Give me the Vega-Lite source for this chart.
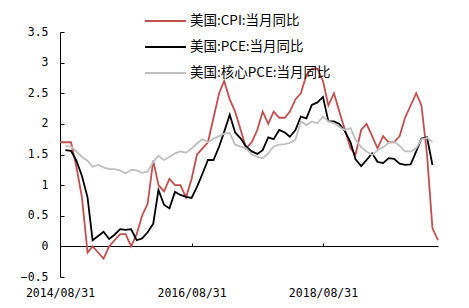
{
  "$schema": "https://vega.github.io/schema/vega-lite/v6.json",
  "autosize": {"type": "none"},
  "padding": {"left": 60, "top": 32, "right": 31, "bottom": 31},
  "width": 378,
  "height": 245,
  "background": "white",
  "config": {"view": {"stroke": null}},
  "data": {"values": [
    {"d":"2014-08-31","c":1.7},
    {"d":"2014-09-30","c":1.7,"p":1.57,"k":1.64},
    {"d":"2014-10-31","c":1.7,"p":1.56,"k":1.63},
    {"d":"2014-11-30","c":1.3,"p":1.4,"k":1.55},
    {"d":"2014-12-31","c":0.8,"p":1.15,"k":1.46},
    {"d":"2015-01-31","c":-0.1,"p":0.8,"k":1.4},
    {"d":"2015-02-28","c":0.0,"p":0.1,"k":1.3},
    {"d":"2015-03-31","c":-0.1,"p":0.17,"k":1.33},
    {"d":"2015-04-30","c":-0.2,"p":0.24,"k":1.29},
    {"d":"2015-05-31","c":0.0,"p":0.12,"k":1.26},
    {"d":"2015-06-30","c":0.1,"p":0.19,"k":1.26},
    {"d":"2015-07-31","c":0.2,"p":0.28,"k":1.24},
    {"d":"2015-08-31","c":0.2,"p":0.27,"k":1.19},
    {"d":"2015-09-30","c":0.0,"p":0.28,"k":1.25},
    {"d":"2015-10-31","c":0.2,"p":0.1,"k":1.24},
    {"d":"2015-11-30","c":0.5,"p":0.13,"k":1.2},
    {"d":"2015-12-31","c":0.7,"p":0.23,"k":1.22},
    {"d":"2016-01-31","c":1.4,"p":0.37,"k":1.38},
    {"d":"2016-02-29","c":1.0,"p":0.92,"k":1.48},
    {"d":"2016-03-31","c":0.9,"p":0.68,"k":1.41},
    {"d":"2016-04-30","c":1.1,"p":0.62,"k":1.46},
    {"d":"2016-05-31","c":1.0,"p":0.89,"k":1.52},
    {"d":"2016-06-30","c":1.0,"p":0.84,"k":1.55},
    {"d":"2016-07-31","c":0.8,"p":0.81,"k":1.53},
    {"d":"2016-08-31","c":1.1,"p":0.79,"k":1.6},
    {"d":"2016-09-30","c":1.5,"p":0.97,"k":1.68},
    {"d":"2016-10-31","c":1.6,"p":1.19,"k":1.75},
    {"d":"2016-11-30","c":1.7,"p":1.41,"k":1.7},
    {"d":"2016-12-31","c":2.1,"p":1.41,"k":1.76},
    {"d":"2017-01-31","c":2.5,"p":1.63,"k":1.8},
    {"d":"2017-02-28","c":2.7,"p":1.87,"k":1.84},
    {"d":"2017-03-31","c":2.4,"p":2.15,"k":1.85},
    {"d":"2017-04-30","c":2.2,"p":1.86,"k":1.66},
    {"d":"2017-05-31","c":1.9,"p":1.76,"k":1.63},
    {"d":"2017-06-30","c":1.6,"p":1.63,"k":1.6},
    {"d":"2017-07-31","c":1.7,"p":1.55,"k":1.5},
    {"d":"2017-08-31","c":1.9,"p":1.51,"k":1.46},
    {"d":"2017-09-30","c":2.2,"p":1.57,"k":1.44},
    {"d":"2017-10-31","c":2.0,"p":1.78,"k":1.52},
    {"d":"2017-11-30","c":2.2,"p":1.75,"k":1.63},
    {"d":"2017-12-31","c":2.1,"p":1.9,"k":1.66},
    {"d":"2018-01-31","c":2.1,"p":1.86,"k":1.67},
    {"d":"2018-02-28","c":2.2,"p":1.79,"k":1.69},
    {"d":"2018-03-31","c":2.4,"p":1.9,"k":1.74},
    {"d":"2018-04-30","c":2.5,"p":2.12,"k":2.04},
    {"d":"2018-05-31","c":2.8,"p":2.09,"k":1.98},
    {"d":"2018-06-30","c":2.9,"p":2.31,"k":2.04},
    {"d":"2018-07-31","c":2.9,"p":2.35,"k":2.01},
    {"d":"2018-08-31","c":2.7,"p":2.44,"k":2.12},
    {"d":"2018-09-30","c":2.3,"p":2.04,"k":2.04},
    {"d":"2018-10-31","c":2.5,"p":2.04,"k":2.01},
    {"d":"2018-11-30","c":2.2,"p":2.0,"k":1.95},
    {"d":"2018-12-31","c":1.9,"p":1.88,"k":1.9},
    {"d":"2019-01-31","c":1.6,"p":1.7,"k":1.93},
    {"d":"2019-02-28","c":1.5,"p":1.42,"k":1.74},
    {"d":"2019-03-31","c":1.9,"p":1.31,"k":1.62},
    {"d":"2019-04-30","c":2.0,"p":1.41,"k":1.55},
    {"d":"2019-05-31","c":1.8,"p":1.52,"k":1.49},
    {"d":"2019-06-30","c":1.6,"p":1.38,"k":1.57},
    {"d":"2019-07-31","c":1.8,"p":1.36,"k":1.62},
    {"d":"2019-08-31","c":1.7,"p":1.44,"k":1.69},
    {"d":"2019-09-30","c":1.7,"p":1.43,"k":1.71},
    {"d":"2019-10-31","c":1.8,"p":1.35,"k":1.64},
    {"d":"2019-11-30","c":2.1,"p":1.33,"k":1.55},
    {"d":"2019-12-31","c":2.3,"p":1.34,"k":1.55},
    {"d":"2020-01-31","c":2.5,"p":1.55,"k":1.6},
    {"d":"2020-02-29","c":2.3,"p":1.76,"k":1.75},
    {"d":"2020-03-31","c":1.5,"p":1.78,"k":1.77},
    {"d":"2020-04-30","c":0.3,"p":1.33,"k":1.71},
    {"d":"2020-05-31","c":0.1}
  ]},
  "transform": [
    {"fold": ["c", "p", "k"], "as": ["s", "v"]},
    {"filter": "isValid(datum.v)"}
  ],
  "mark": {"type": "line", "strokeWidth": 1.8},
  "encoding": {
    "x": {
      "field": "d", "type": "temporal",
      "scale": {"type": "utc", "domain": [{"year": 2014, "month": 8, "date": 31, "utc": true}, {"year": 2020, "month": 5, "date": 31, "utc": true}], "nice": false},
      "axis": {
        "title": null, "grid": false,
        "values": [{"year": 2014, "month": 8, "date": 31, "utc": true}, {"year": 2016, "month": 8, "date": 31, "utc": true}, {"year": 2018, "month": 8, "date": 31, "utc": true}],
        "labelExpr": "utcFormat(datum.value, '%Y/%m/%d')",
        "offset": -31,
        "domainColor": "black", "domainWidth": 1,
        "tickColor": "black", "tickSize": -3,
        "labelPadding": 44, "labelFlush": false,
        "labelFont": "DejaVu Sans Mono", "labelFontSize": 11.5, "labelColor": "black"
      }
    },
    "y": {
      "field": "v", "type": "quantitative",
      "scale": {"domain": [-0.5, 3.5], "nice": false, "zero": false},
      "axis": {
        "title": null, "grid": false,
        "values": [-0.5, 0, 0.5, 1, 1.5, 2, 2.5, 3, 3.5],
        "format": "~f",
        "domainColor": "black", "domainWidth": 1,
        "tickColor": "black", "tickSize": -4,
        "labelPadding": 16,
        "labelFont": "DejaVu Sans Mono", "labelFontSize": 11.5, "labelColor": "black"
      }
    },
    "color": {
      "field": "s", "type": "nominal",
      "scale": {"domain": ["c", "p", "k"], "range": ["#c0504d", "#000000", "#bfbfbf"]},
      "legend": {
        "title": null, "orient": "none", "legendX": 84, "legendY": -19,
        "padding": 0, "direction": "vertical",
        "symbolType": "stroke", "symbolSize": 1681, "symbolStrokeWidth": 2,
        "clipHeight": 16, "rowPadding": 10, "labelOffset": 3,
        "labelFont": "Noto Sans CJK SC", "labelFontSize": 13.5, "labelColor": "black", "labelLimit": 300,
        "labelExpr": "datum.value == 'c' ? '美国:CPI:当月同比' : datum.value == 'p' ? '美国:PCE:当月同比' : '美国:核心PCE:当月同比'"
      }
    }
  }
}
